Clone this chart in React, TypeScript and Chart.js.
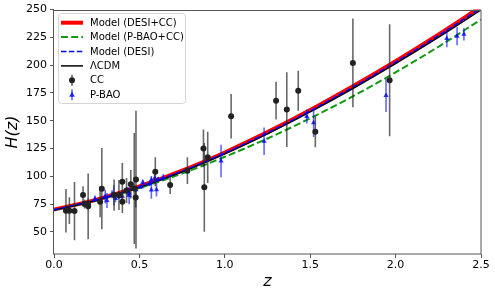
import React, { useEffect, useRef } from 'react';
import { Chart, registerables } from 'chart.js';

Chart.register(...registerables);

// ---- Data ----
const zGrid = [0, 0.25, 0.5, 0.75, 1.0, 1.25, 1.5, 1.75, 2.0, 2.25, 2.5];
const hModelDesiCC = [70.0, 79.0, 90.8, 105.0, 121.4, 139.7, 159.6, 181.0, 203.6, 227.5, 252.6];
const hModelPbaoCC = [69.5, 78.2, 89.3, 102.5, 117.5, 134.0, 152.2, 172.0, 193.5, 216.5, 241.0];
const hModelDesi = [69.8, 78.8, 90.5, 104.6, 120.9, 139.1, 158.9, 180.2, 202.7, 226.5, 251.4];
const hLcdm = [69.5, 78.4, 90.0, 104.0, 120.2, 138.2, 157.9, 179.0, 201.4, 225.0, 249.8];

const ccZ = [0.07, 0.09, 0.12, 0.17, 0.179, 0.199, 0.2, 0.27, 0.28, 0.352, 0.3802, 0.4, 0.4004, 0.4247, 0.4497, 0.47, 0.4783, 0.48, 0.593, 0.68, 0.781, 0.875, 0.88, 0.9, 1.037, 1.3, 1.363, 1.43, 1.53, 1.75, 1.965];
const ccH = [69, 69, 68.6, 83, 75, 75, 72.9, 77, 88.8, 83, 83, 95, 77, 87.1, 92.8, 89, 80.9, 97, 104, 92, 105, 125, 90, 117, 154, 168, 160, 177, 140, 202, 186.5];
const ccErr = [19.6, 12, 26.2, 8, 4, 5, 29.6, 14, 36.6, 14, 13.5, 17, 10.2, 11.2, 12.9, 50, 9, 62, 13, 8, 12, 17, 40, 23, 20, 17, 33.6, 18, 14, 40, 50.4];

const baoZ = [0.24, 0.3, 0.31, 0.34, 0.35, 0.36, 0.38, 0.4, 0.43, 0.44, 0.44, 0.48, 0.51, 0.52, 0.56, 0.57, 0.57, 0.59, 0.6, 0.61, 0.64, 0.978, 1.23, 1.48, 1.52, 1.944, 2.3, 2.36, 2.4];
const baoH = [79.69, 81.7, 78.17, 83.8, 82.7, 79.93, 81.5, 82.04, 86.45, 82.6, 84.81, 87.79, 90.4, 94.35, 93.34, 87.6, 96.8, 98.48, 87.9, 97.3, 98.82, 113.72, 131.44, 153.81, 148.11, 172.63, 224, 226, 227.8];
const baoErr = [2.99, 6.22, 6.74, 3.66, 9.1, 3.39, 1.9, 2.03, 3.97, 7.8, 1.83, 2.03, 1.9, 2.64, 2.3, 7.8, 3.4, 3.18, 6.1, 2.1, 2.98, 14.63, 12.42, 6.39, 12.71, 14.79, 8, 8, 5.61];

const xTicks = [0, 0.5, 1.0, 1.5, 2.0, 2.5];
const yTicks = [50, 75, 100, 125, 150, 175, 200, 225, 250];
const legendLabels = ['Model (DESI+CC)', 'Model (P-BAO+CC)', 'Model (DESI)', '\u039BCDM', 'CC', 'P-BAO'];

const RED = '#ff0000';
const GREEN = '#119911';
const BLUE = '#0000ff';
const CC_COLOR = '#222222';
const CC_BAR = 'rgba(40,40,40,0.7)';
const BAO_COLOR = 'rgba(0,0,255,0.8)';
const BAO_BAR = 'rgba(0,0,255,0.6)';
const FONT = 'DejaVu Sans';

const toXY = (xs: number[], ys: number[]) => xs.map((x, i) => ({ x, y: ys[i] }));

const errorBarPlugin = {
  id: 'errorBars',
  beforeDatasetDraw(chart: any, args: any) {
    const ds = chart.data.datasets[args.index];
    if (!ds.errors) return;
    const { ctx, chartArea, scales } = chart;
    ctx.save();
    ctx.beginPath();
    ctx.rect(chartArea.left, chartArea.top, chartArea.right - chartArea.left, chartArea.bottom - chartArea.top);
    ctx.clip();
    ctx.strokeStyle = ds.barColor;
    ctx.lineWidth = 1.6;
    ds.data.forEach((p: any, i: number) => {
      const e = ds.errors[i];
      const px = scales.x.getPixelForValue(p.x);
      const y1 = scales.y.getPixelForValue(p.y - e);
      const y2 = scales.y.getPixelForValue(p.y + e);
      ctx.beginPath();
      ctx.moveTo(px, y1);
      ctx.lineTo(px, y2);
      ctx.stroke();
    });
    ctx.restore();
  },
};

const framePlugin = {
  id: 'frameAndLegend',
  afterDraw(chart: any) {
    const { ctx, chartArea } = chart;
    const { left, right, top, bottom } = chartArea;
    ctx.save();
    // frame
    ctx.strokeStyle = '#555555';
    ctx.lineWidth = 1;
    ctx.strokeRect(Math.round(left) - 0.5, Math.round(top) + 0.5, Math.round(right - left) + 0.5, Math.round(bottom - top) - 0.5);

    // axis titles
    ctx.fillStyle = '#000';
    ctx.textAlign = 'center';
    ctx.textBaseline = 'middle';
    ctx.font = `italic 16px "${FONT}"`;
    ctx.fillText('z', (left + right) / 2, 282);
    ctx.save();
    ctx.translate(13, 132);
    ctx.rotate(-Math.PI / 2);
    ctx.fillText('H(z)', 0, 0);
    ctx.restore();

    // legend
    const bx = 58.5, by = 13.5, bw = 127, bh = 90, r = 3;
    ctx.beginPath();
    ctx.moveTo(bx + r, by);
    ctx.lineTo(bx + bw - r, by);
    ctx.quadraticCurveTo(bx + bw, by, bx + bw, by + r);
    ctx.lineTo(bx + bw, by + bh - r);
    ctx.quadraticCurveTo(bx + bw, by + bh, bx + bw - r, by + bh);
    ctx.lineTo(bx + r, by + bh);
    ctx.quadraticCurveTo(bx, by + bh, bx, by + bh - r);
    ctx.lineTo(bx, by + r);
    ctx.quadraticCurveTo(bx, by, bx + r, by);
    ctx.closePath();
    ctx.fillStyle = 'rgba(255,255,255,0.85)';
    ctx.fill();
    ctx.strokeStyle = '#d5d5d5';
    ctx.lineWidth = 1;
    ctx.stroke();

    const hx1 = 61, hx2 = 83, hc = 72, tx = 90;
    const rowY = (i: number) => 22.7 + i * 14.4;
    const lines = [
      { color: RED, width: 4, dash: [] as number[] },
      { color: GREEN, width: 2, dash: [7, 3.2] },
      { color: BLUE, width: 1.5, dash: [5.5, 2.4] },
      { color: '#000', width: 1.5, dash: [] as number[] },
    ];
    lines.forEach((l, i) => {
      const y = rowY(i);
      ctx.beginPath();
      ctx.setLineDash(l.dash);
      ctx.strokeStyle = l.color;
      ctx.lineWidth = l.width;
      ctx.moveTo(hx1, y);
      ctx.lineTo(hx2, y);
      ctx.stroke();
    });
    ctx.setLineDash([]);
    // CC handle
    let y = rowY(4);
    ctx.strokeStyle = CC_BAR;
    ctx.lineWidth = 1.6;
    ctx.beginPath();
    ctx.moveTo(hc, y - 5.5);
    ctx.lineTo(hc, y + 5.5);
    ctx.stroke();
    ctx.fillStyle = CC_COLOR;
    ctx.beginPath();
    ctx.arc(hc, y, 3, 0, Math.PI * 2);
    ctx.fill();
    // BAO handle
    y = rowY(5);
    ctx.strokeStyle = BAO_BAR;
    ctx.beginPath();
    ctx.moveTo(hc, y - 5.5);
    ctx.lineTo(hc, y + 5.5);
    ctx.stroke();
    ctx.fillStyle = BAO_COLOR;
    ctx.beginPath();
    ctx.moveTo(hc, y - 3.2);
    ctx.lineTo(hc + 2.8, y + 2);
    ctx.lineTo(hc - 2.8, y + 2);
    ctx.closePath();
    ctx.fill();

    ctx.fillStyle = '#000';
    ctx.font = `10px "${FONT}"`;
    ctx.textAlign = 'left';
    ctx.textBaseline = 'middle';
    legendLabels.forEach((t, i) => ctx.fillText(t, tx, rowY(i) + 0.5));
    ctx.restore();
  },
};

export default function App() {
  const ref = useRef<HTMLCanvasElement | null>(null);
  useEffect(() => {
    if (!ref.current) return;
    const lineDs = (label: string, ys: number[], color: string, width: number, dash: number[], order: number) => ({
      type: 'line' as const,
      label,
      data: toXY(zGrid, ys),
      borderColor: color,
      backgroundColor: color,
      borderWidth: width,
      borderDash: dash,
      pointRadius: 0,
      showLine: true,
      fill: false,
      cubicInterpolationMode: 'monotone' as const,
      order,
    });
    const chart = new Chart(ref.current, {
      type: 'scatter',
      data: {
        datasets: [
          lineDs('Model (DESI+CC)', hModelDesiCC, RED, 4, [], 5),
          lineDs('Model (P-BAO+CC)', hPbaoCCSafe(), GREEN, 2, [7, 3.2], 4),
          lineDs('Model (DESI)', hModelDesi, BLUE, 1.5, [5.5, 2.4], 2),
          lineDs('\u039BCDM', hLcdm, '#000', 1.5, [], 3),
          {
            label: 'CC',
            data: toXY(ccZ, ccH),
            pointStyle: 'circle',
            pointRadius: 3,
            backgroundColor: CC_COLOR,
            borderColor: CC_COLOR,
            borderWidth: 0,
            order: 0,
            errors: ccErr,
            barColor: CC_BAR,
          } as any,
          {
            label: 'P-BAO',
            data: toXY(baoZ, baoH),
            pointStyle: 'triangle',
            pointRadius: 3,
            backgroundColor: BAO_COLOR,
            borderColor: BAO_COLOR,
            borderWidth: 0,
            order: 1,
            errors: baoErr,
            barColor: BAO_BAR,
          } as any,
        ],
      },
      options: {
        animation: false,
        responsive: false,
        devicePixelRatio: 1,
        layout: { padding: { left: 0, right: 14, top: 9, bottom: 0 } },
        plugins: { legend: { display: false }, tooltip: { enabled: false } },
        scales: {
          x: {
            type: 'linear',
            min: 0,
            max: 2.5,
            afterBuildTicks: (s: any) => { s.ticks = xTicks.map((v) => ({ value: v })); },
            afterFit: (s: any) => { s.height = 41; },
            ticks: { font: { family: FONT, size: 11 }, color: '#000', padding: 1, maxRotation: 0, callback: (v: any) => Number(v).toFixed(1) },
            grid: { display: true, drawOnChartArea: false, drawTicks: true, tickLength: 4, tickColor: '#555' },
            border: { display: false },
          },
          y: {
            type: 'linear',
            min: 30,
            max: 250,
            afterBuildTicks: (s: any) => { s.ticks = yTicks.map((v) => ({ value: v })); },
            afterFit: (s: any) => { s.width = 54; },
            ticks: { font: { family: FONT, size: 11 }, color: '#000', padding: 3, callback: (v: any) => String(v) },
            grid: { display: true, drawOnChartArea: false, drawTicks: true, tickLength: 4, tickColor: '#555' },
            border: { display: false },
          },
        },
      },
      plugins: [errorBarPlugin, framePlugin],
    });
    return () => chart.destroy();
  }, []);
  return (
    <canvas
      ref={ref}
      width={495}
      height={295}
      style={{ position: 'fixed', left: 0, top: 0, width: 495, height: 295, display: 'block', background: '#fff' }}
    />
  );
}

function hPbaoCCSafe() {
  return hModelPbaoCC;
}
